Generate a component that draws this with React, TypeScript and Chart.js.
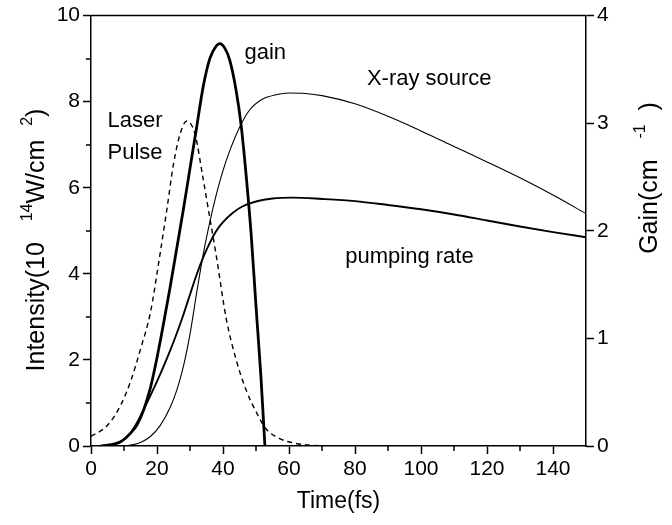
import React, { useEffect, useRef } from "react";
import { Chart, registerables } from "chart.js";

Chart.register(...registerables);

// ---- data (left axis: intensity 10^14 W/cm^2; right axis: gain cm^-1) ----
const laserTime = [0, 5, 9, 12, 15, 18, 21, 23, 25, 27, 29, 31.5, 34, 36, 38, 41, 44, 47, 50, 53, 57, 62, 70];
const laserIntensity = [0.22, 0.48, 0.95, 1.5, 2.25, 3.1, 4.5, 5.5, 6.55, 7.25, 7.55, 7.25, 6.2, 5.3, 4.4, 2.95, 2.0, 1.3, 0.8, 0.4, 0.18, 0.06, 0];

const gainTime = [3, 6, 9, 12, 14, 16, 18, 20, 22, 24, 26, 28, 30, 32, 34, 36, 38, 39, 40.5, 42, 44, 45.5, 47, 48.5, 50, 51.5, 52.7];
const gainValue = [0, 0.012, 0.04, 0.12, 0.2, 0.34, 0.54, 0.82, 1.14, 1.48, 1.84, 2.2, 2.58, 2.96, 3.34, 3.6, 3.72, 3.74, 3.7, 3.59, 3.3, 2.98, 2.52, 1.98, 1.3, 0.64, 0];

const xrayTime = [10, 12, 15, 18, 21, 24, 26, 28, 30, 32, 34, 36, 38, 40, 42, 45, 48, 52, 56, 60, 65, 70, 80, 90, 100, 110, 120, 130, 140, 150];
const xrayIntensity = [0, 0.02, 0.08, 0.22, 0.48, 0.9, 1.3, 1.85, 2.6, 3.55, 4.45, 5.2, 5.85, 6.4, 6.85, 7.4, 7.8, 8.06, 8.16, 8.2, 8.19, 8.14, 7.95, 7.66, 7.32, 6.96, 6.6, 6.23, 5.83, 5.4];

const pumpTime = [3, 6, 9, 12, 14, 16, 18, 20, 22, 24, 26, 28, 30, 32, 34, 36, 38, 40, 43, 46, 50, 55, 61, 70, 80, 90, 100, 110, 120, 130, 140, 150];
const pumpIntensity = [0, 0.02, 0.1, 0.3, 0.55, 0.85, 1.17, 1.5, 1.85, 2.22, 2.62, 3.05, 3.52, 3.98, 4.38, 4.72, 5.0, 5.2, 5.42, 5.57, 5.68, 5.75, 5.77, 5.74, 5.69, 5.6, 5.5, 5.38, 5.24, 5.1, 4.97, 4.85];

const xTicks = [0, 20, 40, 60, 80, 100, 120, 140];
const xMinorTicks = [10, 30, 50, 70, 90, 110, 130];
const yMinorTicks = [1, 3, 5, 7, 9];

// labels placed in data coordinates (time, intensity)
const labelTexts = ["gain", "X-ray source", "Laser", "Pulse", "pumping rate"];
const labelTimes = [46.5, 102.5, 5.0, 5.0, 96.5];
const labelValues = [9.13, 8.52, 7.55, 6.8, 4.4];
const labelAligns = ["left", "center", "left", "left", "center"];

const FONT = "'Liberation Sans', Arial, sans-serif";
const FS = 22;
const TICK_FS = 21;
const TITLE_FS = 25;

const toPoints = (xs: number[], ys: number[]) => xs.map((x, i) => ({ x, y: ys[i] }));

type Seg = { t: string; sup?: boolean };

function drawRich(ctx: CanvasRenderingContext2D, segs: Seg[], cx: number, cy: number, size: number) {
  const supSize = Math.round(size * 0.62);
  let total = 0;
  const widths = segs.map((s) => {
    ctx.font = `${s.sup ? supSize : size}px ${FONT}`;
    const w = ctx.measureText(s.t).width;
    total += w;
    return w;
  });
  ctx.save();
  ctx.translate(cx, cy);
  ctx.rotate(-Math.PI / 2);
  ctx.fillStyle = "#000";
  ctx.textBaseline = "alphabetic";
  ctx.textAlign = "left";
  let x = -total / 2;
  const base = size * 0.36;
  segs.forEach((s, i) => {
    ctx.font = `${s.sup ? supSize : size}px ${FONT}`;
    ctx.fillText(s.t, x, s.sup ? base - size * 0.5 : base);
    x += widths[i];
  });
  ctx.restore();
}

const decorPlugin = {
  id: "decor",
  afterDraw(chart: any) {
    const ctx: CanvasRenderingContext2D = chart.ctx;
    const { left, right, top, bottom } = chart.chartArea;
    const xs = chart.scales.x;
    const ys = chart.scales.y;
    ctx.save();
    ctx.strokeStyle = "#000";
    ctx.lineWidth = 1.5;
    ctx.beginPath();
    ctx.moveTo(left, top);
    ctx.lineTo(right, top);
    ctx.stroke();
    ctx.beginPath();
    xMinorTicks.forEach((v) => {
      const p = Math.round(xs.getPixelForValue(v));
      ctx.moveTo(p, bottom);
      ctx.lineTo(p, bottom + 5);
    });
    yMinorTicks.forEach((v) => {
      const p = Math.round(ys.getPixelForValue(v));
      ctx.moveTo(left, p);
      ctx.lineTo(left - 5, p);
    });
    ctx.stroke();
    ctx.fillStyle = "#000";
    ctx.font = `${FS}px ${FONT}`;
    ctx.textBaseline = "middle";
    labelTexts.forEach((t, i) => {
      ctx.textAlign = labelAligns[i] as CanvasTextAlign;
      ctx.fillText(t, xs.getPixelForValue(labelTimes[i]), ys.getPixelForValue(labelValues[i]));
    });
    ctx.textAlign = "center";
    ctx.textBaseline = "middle";
    ctx.font = `${TITLE_FS - 2}px ${FONT}`;
    ctx.fillText("Time(fs)", (left + right) / 2, 502);
    ctx.restore();
    drawRich(ctx, [
      { t: "Intensity(10   " },
      { t: "14", sup: true },
      { t: "W/cm  " },
      { t: "2", sup: true },
      { t: ")" },
    ], 35, 240, TITLE_FS);
    drawRich(ctx, [
      { t: "Gain(cm   " },
      { t: "-1", sup: true },
      { t: "  )" },
    ], 648, 178, TITLE_FS);
  },
};

export default function App() {
  const ref = useRef<HTMLCanvasElement>(null);
  useEffect(() => {
    if (!ref.current) return;
    const tickFont = { family: FONT, size: TICK_FS };
    const axisCommon = {
      border: { display: true, color: "#000", width: 1.5 },
      grid: { display: true, drawOnChartArea: false, drawTicks: true, tickLength: 8, tickColor: "#000", tickWidth: 1.5 },
    };
    const chart = new Chart(ref.current, {
      type: "line",
      data: {
        datasets: [
          {
            label: "Laser Pulse",
            data: toPoints(laserTime, laserIntensity),
            yAxisID: "y",
            borderColor: "#000",
            borderWidth: 1.4,
            borderDash: [5, 4],
            pointRadius: 0,
            cubicInterpolationMode: "monotone",
          },
          {
            label: "gain",
            data: toPoints(gainTime, gainValue),
            yAxisID: "y1",
            borderColor: "#000",
            borderWidth: 2.8,
            pointRadius: 0,
            cubicInterpolationMode: "monotone",
          },
          {
            label: "X-ray source",
            data: toPoints(xrayTime, xrayIntensity),
            yAxisID: "y",
            borderColor: "#000",
            borderWidth: 1.1,
            pointRadius: 0,
            cubicInterpolationMode: "monotone",
          },
          {
            label: "pumping rate",
            data: toPoints(pumpTime, pumpIntensity),
            yAxisID: "y",
            borderColor: "#000",
            borderWidth: 1.9,
            pointRadius: 0,
            cubicInterpolationMode: "monotone",
          },
        ],
      },
      options: {
        animation: false,
        responsive: false,
        devicePixelRatio: 1,
        layout: { padding: { top: 14, left: 0, right: 0, bottom: 0 } },
        plugins: { legend: { display: false }, tooltip: { enabled: false } },
        scales: {
          x: {
            type: "linear",
            min: 0,
            max: 150,
            ...axisCommon,
            afterBuildTicks: (s: any) => {
              s.ticks = xTicks.map((v) => ({ value: v }));
            },
            afterFit: (s: any) => {
              s.height = 79;
            },
            ticks: { font: tickFont, color: "#000", padding: 3, maxRotation: 0, autoSkip: false },
          },
          y: {
            type: "linear",
            position: "left",
            min: 0,
            max: 10,
            ...axisCommon,
            afterFit: (s: any) => {
              s.width = 91;
            },
            ticks: { font: tickFont, color: "#000", stepSize: 2, padding: 3 },
          },
          y1: {
            type: "linear",
            position: "right",
            min: 0,
            max: 4,
            ...axisCommon,
            afterFit: (s: any) => {
              s.width = 86;
            },
            ticks: { font: tickFont, color: "#000", stepSize: 1, padding: 3 },
          },
        },
      } as any,
      plugins: [decorPlugin],
    });
    return () => chart.destroy();
  }, []);
  return (
    <div style={{ position: "absolute", left: 0, top: 0, width: 672, height: 525, background: "#fff" }}>
      <canvas ref={ref} width={672} height={525} />
    </div>
  );
}
